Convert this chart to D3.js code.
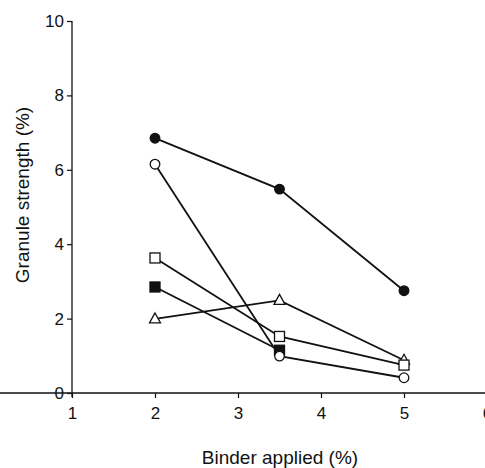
<!DOCTYPE html>
<html>
<head>
<meta charset="utf-8">
<script src="https://cdn.jsdelivr.net/npm/d3@7"></script>
<style>
  body { margin: 0; background: #fff; }
  svg text { font-family: "Liberation Sans", Arial, sans-serif; fill: #111; }
</style>
</head>
<body>
<svg id="chart" width="485" height="468"></svg>
<script>
// binder levels on the x axis
const binder = [2, 3.5, 5];

// granule strength for each series
const filledCircle = [6.85, 5.48, 2.75];
const openCircle   = [6.15, 0.99, 0.41];
const openSquare   = [3.63, 1.52, 0.75];
const filledSquare = [2.85, 1.15, null];
const openTriangle = [1.99, 2.49, 0.88];

const xTicks = [1, 2, 3, 4, 5, 6];
const yTicks = [0, 2, 4, 6, 8, 10];

const svg = d3.select("#chart");
const margin = { left: 72, top: 21, bottom: 75 };

const x = d3.scaleLinear().domain([1, 6]).range([margin.left, 487]);
const y = d3.scaleLinear().domain([0, 10]).range([393, margin.top]);

// axes
const xAxis = svg.append("g")
  .attr("transform", `translate(0,${y(0)})`)
  .call(d3.axisBottom(x).tickValues(xTicks).tickFormat(d3.format("d"))
    .tickSize(5).tickPadding(9).tickSizeOuter(0));
const yAxis = svg.append("g")
  .attr("transform", `translate(${x(1)},0)`)
  .call(d3.axisLeft(y).tickValues(yTicks).tickFormat(d3.format("d"))
    .tickSize(5).tickPadding(3).tickSizeOuter(0));

[xAxis, yAxis].forEach(a => {
  a.select(".domain").attr("stroke", "#111").attr("stroke-width", 1.3);
  a.selectAll(".tick line").attr("stroke", "#111").attr("stroke-width", 1.2);
  a.selectAll(".tick text").style("font-size", "17px").attr("fill", "#111");
});
yAxis.select(".domain").attr("d", `M0,${y(0) + 4}V${y(10)}`);
xAxis.select(".domain").attr("d", `M-4,0H${485 - x(1) + 72}`);

// axis titles
svg.append("text")
  .attr("transform", `translate(29,195) rotate(-90)`)
  .attr("text-anchor", "middle")
  .style("font-size", "19px")
  .text("Granule strength (%)");

svg.append("text")
  .attr("x", 280)
  .attr("y", 464)
  .attr("text-anchor", "middle")
  .style("font-size", "19px")
  .text("Binder applied (%)");

// series
const series = [
  { values: openTriangle, shape: "triangle", fill: "#fff" },
  { values: openSquare, shape: "square", fill: "#fff" },
  { values: filledSquare, shape: "square", fill: "#111" },
  { values: openCircle, shape: "circle", fill: "#fff" },
  { values: filledCircle, shape: "circle", fill: "#111" },
];

const line = d3.line()
  .x(d => x(d[0]))
  .y(d => y(d[1]));

series.forEach(s => {
  const pts = binder.map((b, i) => [b, s.values[i]]).filter(d => d[1] != null);
  svg.append("path")
    .datum(pts)
    .attr("fill", "none")
    .attr("stroke", "#111")
    .attr("stroke-width", 1.8)
    .attr("d", line);
});

series.forEach(s => {
  const pts = binder.map((b, i) => [b, s.values[i]]).filter(d => d[1] != null);
  const g = svg.append("g");
  pts.forEach(d => {
    const cx = x(d[0]), cy = y(d[1]);
    if (s.shape === "circle") {
      g.append("circle").attr("cx", cx).attr("cy", cy).attr("r", 4.8)
        .attr("fill", s.fill).attr("stroke", "#111").attr("stroke-width", 1.3);
    } else if (s.shape === "square") {
      g.append("rect").attr("x", cx - 5).attr("y", cy - 5).attr("width", 10).attr("height", 10)
        .attr("fill", s.fill).attr("stroke", "#111").attr("stroke-width", 1.3);
    } else {
      g.append("path")
        .attr("d", `M${cx},${cy - 6}L${cx + 5.5},${cy + 4}L${cx - 5.5},${cy + 4}Z`)
        .attr("fill", s.fill).attr("stroke", "#111").attr("stroke-width", 1.3);
    }
  });
});
</script>
</body>
</html>
